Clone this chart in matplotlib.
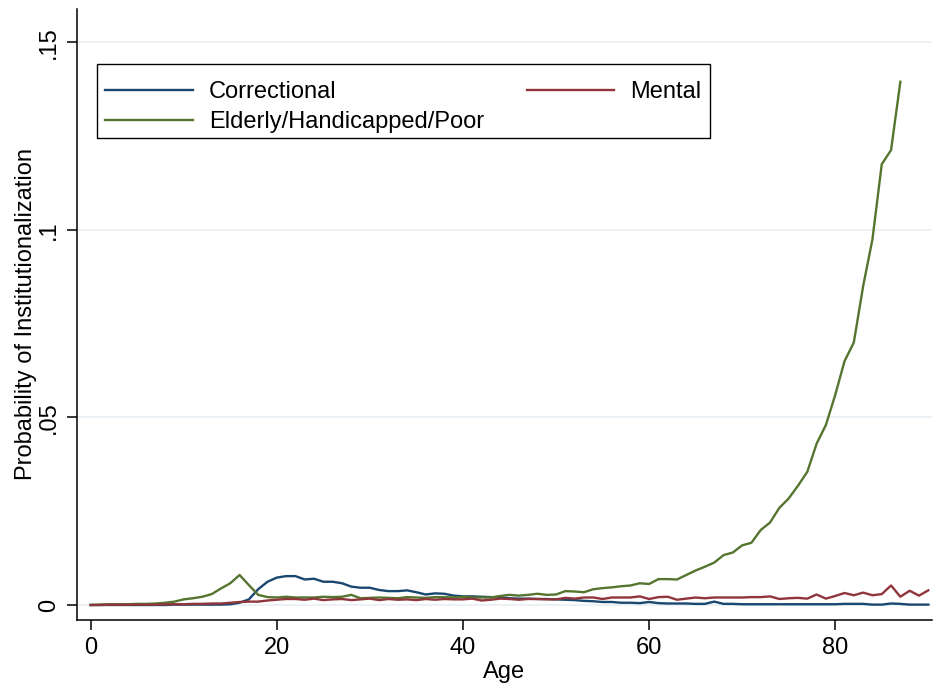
import numpy as np
import matplotlib
matplotlib.use('Agg')
import matplotlib.pyplot as plt
from matplotlib.patches import Rectangle

plt.rcParams['font.family'] = ['Liberation Sans', 'DejaVu Sans']

# Probability of institutionalization by single year of age
ages = np.arange(0, 91)
ages_elderly = np.arange(0, 88)

correctional = [
  0, 0, 0, 0, 0, 0, 0, 0, 0, 0.0001,
  0.0001, 0.0001, 0.0001, 0.0001, 0.0001, 0.0002, 0.0006, 0.0015, 0.0042, 0.0062,
  0.0073, 0.0077, 0.0077, 0.0068, 0.0070, 0.0062, 0.0062, 0.0058, 0.0049, 0.0046,
  0.0046, 0.0040, 0.0037, 0.0037, 0.0039, 0.0034, 0.0028, 0.0031, 0.0030, 0.0025,
  0.0023, 0.0023, 0.0022, 0.0021, 0.0020, 0.0018, 0.0017, 0.0017, 0.0016, 0.0016,
  0.0015, 0.0014, 0.0013, 0.0011, 0.0010, 0.0008, 0.0008, 0.0006, 0.0006, 0.0005,
  0.0008, 0.0005, 0.0004, 0.0004, 0.0004, 0.0003, 0.0003, 0.0009, 0.0003, 0.0003,
  0.0002, 0.0002, 0.0002, 0.0002, 0.0002, 0.0002, 0.0002, 0.0002, 0.0002, 0.0002,
  0.0002, 0.0003, 0.0003, 0.0003, 0.0001, 0.0001, 0.0004, 0.0003, 0.0001, 0.0001,
  0.0001]

mental = [
  0, 0, 0.0001, 0.0001, 0.0001, 0.0001, 0.0001, 0.0001, 0.0002, 0.0002,
  0.0002, 0.0003, 0.0003, 0.0004, 0.0004, 0.0006, 0.0008, 0.0009, 0.0009, 0.0012,
  0.0014, 0.0016, 0.0016, 0.0014, 0.0017, 0.0013, 0.0015, 0.0016, 0.0013, 0.0015,
  0.0017, 0.0013, 0.0016, 0.0014, 0.0015, 0.0013, 0.0016, 0.0014, 0.0016, 0.0015,
  0.0015, 0.0017, 0.0012, 0.0014, 0.0017, 0.0016, 0.0014, 0.0016, 0.0016, 0.0015,
  0.0015, 0.0019, 0.0017, 0.0020, 0.0020, 0.0016, 0.0020, 0.0020, 0.0020, 0.0023,
  0.0016, 0.0021, 0.0022, 0.0014, 0.0017, 0.0020, 0.0018, 0.0020, 0.0020, 0.0020,
  0.0020, 0.0021, 0.0021, 0.0023, 0.0016, 0.0018, 0.0019, 0.0017, 0.0028, 0.0017,
  0.0024, 0.0032, 0.0026, 0.0033, 0.0026, 0.0029, 0.0052, 0.0022, 0.0038, 0.0025,
  0.0039]

elderly = [
  0, 0.0001, 0.0002, 0.0002, 0.0002, 0.0003, 0.0003, 0.0004, 0.0006, 0.0009,
  0.0015, 0.0018, 0.0022, 0.0029, 0.0044, 0.0058, 0.0080, 0.0053, 0.0027, 0.0021,
  0.0020, 0.0022, 0.0020, 0.0020, 0.0020, 0.0022, 0.0021, 0.0022, 0.0027, 0.0018,
  0.0019, 0.0020, 0.0019, 0.0018, 0.0021, 0.0020, 0.0019, 0.0021, 0.0021, 0.0020,
  0.0021, 0.0020, 0.0020, 0.0020, 0.0024, 0.0027, 0.0025, 0.0027, 0.0030, 0.0027,
  0.0028, 0.0037, 0.0036, 0.0034, 0.0042, 0.0045, 0.0047, 0.0050, 0.0052, 0.0058,
  0.0056, 0.0069, 0.0069, 0.0068, 0.0080, 0.0092, 0.0102, 0.0113, 0.0133, 0.0140,
  0.0159, 0.0166, 0.0200, 0.0220, 0.0259, 0.0284, 0.0318, 0.0355, 0.0430, 0.0480,
  0.0560, 0.0650, 0.0700, 0.0850, 0.0975, 0.1175, 0.1213, 0.1395]

y_ticks = [0, 0.05, 0.1, 0.15]
y_ticklabels = ['0', '.05', '.1', '.15']
x_ticks = [0, 20, 40, 60, 80]

navy = '#1a476f'
maroon = '#90353b'
forest_green = '#55752f'

W, H = 933, 685
fig = plt.figure(figsize=(W/100, H/100), dpi=100)
ax = fig.add_axes([77/W, 1 - 620/H, (932 - 77)/W, (620 - 9)/H])

for yv in y_ticks:
  ax.axhline(yv, color='#e6eef1', lw=1.1, zorder=0)

ax.plot(ages, correctional, color=navy, lw=1.7, label='Correctional')
ax.plot(ages_elderly, elderly, color=forest_green, lw=1.7, label='Elderly/Handicapped/Poor')
ax.plot(ages, mental, color=maroon, lw=1.7, label='Mental')

ax.set_xlim(-1.47, 90.4)
ax.set_ylim(-0.0040, 0.1589)

ax.spines['top'].set_visible(False)
ax.spines['right'].set_visible(False)
for s in ('left', 'bottom'):
  ax.spines[s].set_linewidth(1.1)

ax.set_xticks(x_ticks)
ax.set_yticks(y_ticks)
ax.set_yticklabels(y_ticklabels, rotation=90, va='center')
ax.tick_params(axis='both', labelsize=17, length=7, width=1.1, pad=5)

ax.set_xlabel('Age', fontsize=17, labelpad=2)
ax.set_ylabel('Probability of Institutionalization', fontsize=17, labelpad=1)

# legend entries without frame; the box is drawn separately
handles, labels = ax.get_legend_handles_labels()
leg = ax.legend(handles, labels,
                ncol=2, loc='upper left',
                bbox_to_anchor=(97/W, 1 - 73/H), bbox_transform=fig.transFigure,
                borderaxespad=0, fontsize=17, frameon=False,
                handlelength=3.7, handletextpad=0.68, columnspacing=1.82,
                labelspacing=0.33, borderpad=0.35)
fig.patches.append(Rectangle((97/W, 1 - 138/H), (710 - 97)/W, (138 - 64)/H,
                             transform=fig.transFigure, fill=False,
                             edgecolor='black', lw=1.0, zorder=5))

fig.savefig('out.png', dpi=100)
